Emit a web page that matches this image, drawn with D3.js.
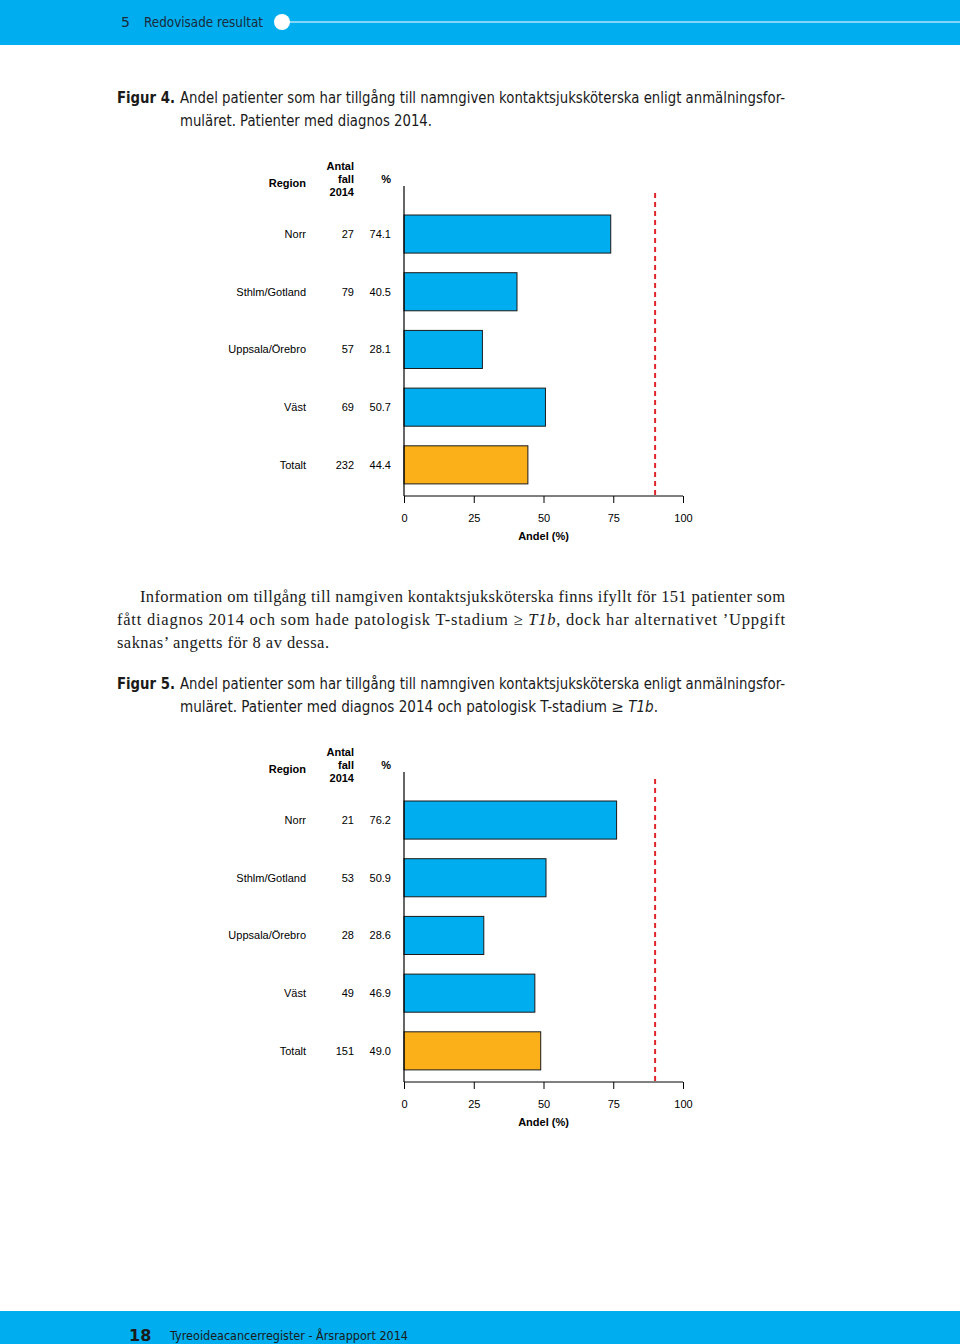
<!DOCTYPE html>
<html><head><meta charset="utf-8">
<script src="https://cdn.jsdelivr.net/npm/d3@7"></script>
<style>body{margin:0;background:#fff}svg{display:block}</style>
</head><body>
<script>
const regions = ["Norr","Sthlm/Gotland","Uppsala/Örebro","Väst","Totalt"];
const cases1 = [27,79,57,69,232];
const pct1 = [74.1,40.5,28.1,50.7,44.4];
const cases2 = [21,53,28,49,151];
const pct2 = [76.2,50.9,28.6,46.9,49.0];
const target = 90;
const xTicks = [0,25,50,75,100];

const W=960,H=1344;
const svg=d3.select("body").append("svg").attr("width",W).attr("height",H);
const BLUE="#00aeef", ORANGE="#fbb01a", DARK="#1a1a1a";

// header band
svg.append("rect").attr("x",0).attr("y",0).attr("width",W).attr("height",45).attr("fill",BLUE);
svg.append("line").attr("x1",282).attr("x2",W).attr("y1",22).attr("y2",22).attr("stroke","#fff").attr("stroke-width",1);
svg.append("circle").attr("cx",282).attr("cy",22).attr("r",8).attr("fill","#fff");
svg.append("text").attr("x",121).attr("y",27).attr("font-family","DejaVu Sans").attr("font-size",14).attr("fill","#1b2a3a").text("5");
svg.append("text").attr("x",144).attr("y",27).attr("font-family","DejaVu Sans").attr("font-size",14).attr("fill","#1b2a3a").attr("textLength",119).attr("lengthAdjust","spacingAndGlyphs").text("Redovisade resultat");

// footer band
svg.append("rect").attr("x",0).attr("y",1311).attr("width",W).attr("height",33).attr("fill",BLUE);
svg.append("text").attr("x",129).attr("y",1341).attr("font-family","DejaVu Sans").attr("font-weight","bold").attr("font-size",16).attr("fill",DARK).text("18");
svg.append("text").attr("x",170).attr("y",1340).attr("font-family","DejaVu Sans").attr("font-size",13).attr("fill",DARK).attr("textLength",238).attr("lengthAdjust","spacingAndGlyphs").text("Tyreoideacancerregister - Årsrapport 2014");

function caption(y, num, line1, line2parts){
  const f="DejaVu Sans Condensed, DejaVu Sans";
  svg.append("text").attr("x",117).attr("y",y).attr("font-family",f).attr("font-weight","bold").attr("font-size",15).attr("fill",DARK).attr("textLength",58).attr("lengthAdjust","spacingAndGlyphs").text("Figur "+num+".");
  svg.append("text").attr("x",180).attr("y",y).attr("font-family",f).attr("font-size",15).attr("fill",DARK).attr("textLength",605).attr("lengthAdjust","spacingAndGlyphs").text(line1);
  const t=svg.append("text").attr("x",180).attr("y",y+23).attr("font-family",f).attr("font-size",15).attr("fill",DARK);
  line2parts.forEach(p=>{t.append("tspan").attr("font-style",p.it?"italic":null).attr("font-family",p.serif?"DejaVu Serif":null).text(p.t);});
  return t;
}
const c1=caption(103,4,"Andel patienter som har tillgång till namngiven kontaktsjuksköterska enligt anmälningsfor-",[{t:"muläret. Patienter med diagnos 2014."}]);
c1.attr("textLength",252).attr("lengthAdjust","spacingAndGlyphs");
const c2=caption(689,5,"Andel patienter som har tillgång till namngiven kontaktsjuksköterska enligt anmälningsfor-",[{t:"muläret. Patienter med diagnos 2014 och patologisk T-stadium "},{t:"≥",serif:true},{t:" T1b",it:true},{t:"."}]);
c2.attr("textLength",478).attr("lengthAdjust","spacingAndGlyphs");

// body paragraph (serif, justified)
const bf="Liberation Serif, DejaVu Serif";
const body=[
 {x:140,y:602,w:645,t:"Information om tillgång till namgiven kontaktsjuksköterska finns ifyllt för 151 patienter som"},
 {x:117,y:625,w:668,parts:[{t:"fått diagnos 2014 och som hade patologisk T-stadium ≥ "},{t:"T1b",it:true},{t:", dock har alternativet ’Uppgift"}]},
 {x:117,y:648,w:212,t:"saknas’ angetts för 8 av dessa."}
];
body.forEach(b=>{
  const t=svg.append("text").attr("x",b.x).attr("y",b.y).attr("font-family",bf).attr("font-size",16.5).attr("fill",DARK).attr("textLength",b.w).attr("lengthAdjust","spacing");
  if(b.parts) b.parts.forEach(p=>t.append("tspan").attr("font-style",p.it?"italic":null).text(p.t));
  else t.text(b.t);
});

function chart(off, cases, pct){
  const g=svg.append("g").attr("transform",`translate(0,${off})`).attr("font-family","Liberation Sans, Arial, sans-serif").attr("font-size",11).attr("fill","#000");
  const x=d3.scaleLinear().domain([0,100]).range([404,683]);
  const y=d3.scaleBand().domain(regions).range([205.2,493.7]).paddingInner(0.34).paddingOuter(0.17);
  // headers
  g.append("text").attr("x",306).attr("y",187).attr("text-anchor","end").attr("font-weight","bold").text("Region");
  ["Antal","fall","2014"].forEach((s,i)=>g.append("text").attr("x",354).attr("y",170+13*i).attr("text-anchor","end").attr("font-weight","bold").text(s));
  g.append("text").attr("x",391).attr("y",183).attr("text-anchor","end").attr("font-weight","bold").text("%");
  // rows
  regions.forEach((r,i)=>{
    const cy=y(r)+y.bandwidth()/2+4;
    g.append("text").attr("x",306).attr("y",cy).attr("text-anchor","end").text(r);
    g.append("text").attr("x",354).attr("y",cy).attr("text-anchor","end").text(cases[i]);
    g.append("text").attr("x",391).attr("y",cy).attr("text-anchor","end").text(pct[i].toFixed(1));
  });
  g.selectAll("rect.bar").data(regions).join("rect").attr("class","bar")
    .attr("x",x(0)).attr("y",d=>y(d)).attr("width",(d,i)=>x(pct[i])-x(0)).attr("height",y.bandwidth())
    .attr("fill",(d,i)=>i===regions.length-1?ORANGE:BLUE).attr("stroke","#1a1a1a").attr("stroke-width",1);
  // y axis line
  g.append("line").attr("x1",x(0)).attr("x2",x(0)).attr("y1",186).attr("y2",496).attr("stroke","#000").attr("stroke-width",1.2);
  // target line
  g.append("line").attr("x1",x(target)).attr("x2",x(target)).attr("y1",193).attr("y2",495).attr("stroke","#e0262b").attr("stroke-width",2).attr("stroke-dasharray","5,4");
  // x axis
  const ax=g.append("g").attr("transform","translate(0,496)").call(d3.axisBottom(x).tickValues(xTicks).tickSize(7).tickPadding(11).tickFormat(d3.format("d")));
  ax.select(".domain").attr("d","M404,0H683").attr("stroke","#000");
  ax.selectAll("text").attr("font-family","Liberation Sans, Arial, sans-serif").attr("font-size",11).attr("fill","#000");
  g.append("text").attr("x",x(50)).attr("y",540).attr("text-anchor","middle").attr("font-weight","bold").text("Andel (%)");
}
chart(0,cases1,pct1);
chart(586,cases2,pct2);
</script>
</body></html>
